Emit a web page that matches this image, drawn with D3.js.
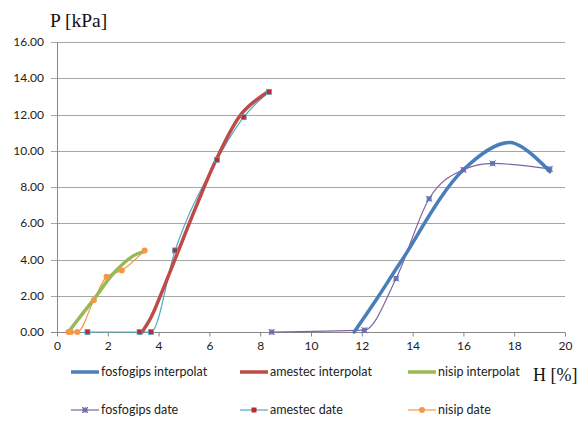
<!DOCTYPE html>
<html><head><meta charset="utf-8">
<script src="https://cdn.jsdelivr.net/npm/d3@7"></script>
<style>
body{margin:0;background:#fff;}
svg{display:block;}
</style></head>
<body>
<svg id="chart" width="586" height="423"></svg>
<script>
// X ticks and Y ticks
const xTicks = [0,2,4,6,8,10,12,14,16,18,20];
const yTicks = [0,2,4,6,8,10,12,14,16];

// fosfogips
const fosfoDateX = [8.45,12.1,13.35,14.65,16.0,17.15,19.4];
const fosfoDateY = [0,0.1,2.95,7.35,8.95,9.3,9.0];
const fosfoInterpX = [11.7,12.6,13.55,16.0,17.85,19.4];
const fosfoInterpY = [0,1.85,3.9,8.95,10.45,8.85];

// amestec
const amestecDateX = [1.2,3.25,3.7,4.65,6.3,7.35,8.35];
const amestecDateY = [0,0,0,4.5,9.5,11.85,13.25];
const amestecInterpX = [3.35,3.7,4.1,4.7,5.5,6.3,7.3,8.35];
const amestecInterpY = [0,0.8,2.1,4.2,7.0,9.6,12.1,13.3];

// nisip
const nisipDateX = [0.45,0.55,0.8,1.45,1.95,2.55,3.45];
const nisipDateY = [0,0,0,1.75,3.05,3.4,4.5];
const nisipInterpX = [0.45,1.0,1.45,2.2,3.0,3.45];
const nisipInterpY = [0,1.0,1.8,3.2,4.2,4.45];

const seriesNames = ["fosfogips interpolat","amestec interpolat","nisip interpolat","fosfogips date","amestec date","nisip date"];

const svg = d3.select("#chart");
const x = d3.scaleLinear().domain([0,20]).range([57,565]);
const y = d3.scaleLinear().domain([0,16]).range([332,42]);

const zip = (a,b)=>a.map((v,i)=>[v,b[i]]);

// gridlines
svg.append("g").selectAll("line").data(yTicks).join("line")
  .attr("x1",51).attr("x2",565)
  .attr("y1",d=>Math.round(y(d))+0.5).attr("y2",d=>Math.round(y(d))+0.5)
  .attr("stroke",d=>d===0?"#878787":"#a6a6a6").attr("stroke-width",1);

// y axis line
svg.append("line").attr("x1",57.5).attr("x2",57.5).attr("y1",y(16)).attr("y2",y(0))
  .attr("stroke","#878787");

// x axis
const xAxis = d3.axisBottom(x).tickValues(xTicks).tickFormat(d3.format("d")).tickSize(4).tickSizeOuter(0);
const gx = svg.append("g").attr("transform",`translate(0,${Math.round(y(0))+0.5})`).call(xAxis);
gx.select(".domain").remove();
gx.selectAll(".tick line").attr("stroke","#878787");
gx.selectAll("text").attr("font-family","Lato, 'Open Sans', sans-serif").attr("font-size",12).attr("fill","#222").attr("dy","0.9em");

// y labels
svg.append("g").selectAll("text").data(yTicks).join("text")
  .attr("x",44).attr("y",d=>y(d)).attr("dy","0.35em").attr("text-anchor","end")
  .attr("font-family","Lato, 'Open Sans', sans-serif").attr("font-size",12).attr("fill","#222")
  .text(d=>d3.format(".2f")(d));

// titles
svg.append("text").attr("x",50).attr("y",27).attr("font-family","'Liberation Serif', 'DejaVu Serif', serif")
  .attr("font-size",19.5).attr("fill","#111").text("P [kPa]");
svg.append("text").attr("x",533).attr("y",381).attr("font-family","'Liberation Serif', 'DejaVu Serif', serif")
  .attr("font-size",18).attr("fill","#111").text("H [%]");

const smooth = d3.line().x(d=>x(d[0])).y(d=>y(d[1])).curve(d3.curveCatmullRom.alpha(0.5));
const smoothData = d3.line().x(d=>x(d[0])).y(d=>y(d[1])).curve(d3.curveMonotoneX);

const colors = {fosfo:"#4a7ebb", amestec:"#be4b48", nisip:"#98b954", fosfoD:"#8064a2", amestecD:"#4bacc6", nisipD:"#f79646"};

// data lines (thin)
function dataLine(xs,ys,color){
  svg.append("path").datum(zip(xs,ys)).attr("d",smoothData).attr("fill","none")
    .attr("stroke",color).attr("stroke-width",1.2);
}
dataLine(fosfoDateX,fosfoDateY,colors.fosfoD);
dataLine(amestecDateX,amestecDateY,colors.amestecD);
dataLine(nisipDateX,nisipDateY,colors.nisipD);

// interpolated thick lines
function interpLine(xs,ys,color){
  svg.append("path").datum(zip(xs,ys)).attr("d",smooth).attr("fill","none")
    .attr("stroke",color).attr("stroke-width",3.5).attr("stroke-linecap","round");
}
interpLine(fosfoInterpX,fosfoInterpY,colors.fosfo);
interpLine(amestecInterpX,amestecInterpY,colors.amestec);
interpLine(nisipInterpX,nisipInterpY,colors.nisip);

// markers
function xMarker(g,cx,cy,c){
  g.append("rect").attr("x",cx-2.5).attr("y",cy-2.5).attr("width",5).attr("height",5).attr("fill","#4f6fb5").attr("opacity",0.85);
  g.append("path").attr("d",`M${cx-3},${cy-3}L${cx+3},${cy+3}M${cx-3},${cy+3}L${cx+3},${cy-3}`).attr("stroke",c).attr("stroke-width",1);
}
const mg = svg.append("g");
zip(fosfoDateX,fosfoDateY).forEach(p=>xMarker(mg,x(p[0]),y(p[1]),colors.fosfoD));
mg.selectAll("rect.am").data(zip(amestecDateX,amestecDateY)).join("rect").attr("class","am")
  .attr("x",d=>x(d[0])-2.5).attr("y",d=>y(d[1])-2.5).attr("width",5).attr("height",5)
  .attr("fill","#c0282d").attr("stroke",colors.amestecD).attr("stroke-width",0.8);
mg.selectAll("circle.ni").data(zip(nisipDateX,nisipDateY)).join("circle").attr("class","ni")
  .attr("cx",d=>x(d[0])).attr("cy",d=>y(d[1])).attr("r",3).attr("fill",colors.nisipD);

// legend
const legendPos = [[71,372],[240,372],[408,372],[71,410],[240,410],[408,410]];
const legColors = [colors.fosfo,colors.amestec,colors.nisip,colors.fosfoD,colors.amestecD,colors.nisipD];
const lg = svg.append("g");
seriesNames.forEach((name,i)=>{
  const [lx,ly] = legendPos[i];
  lg.append("line").attr("x1",lx).attr("x2",lx+28).attr("y1",ly).attr("y2",ly)
    .attr("stroke",legColors[i]).attr("stroke-width",i<3?3.5:1.2);
  const mx = lx+14;
  if(i===3) xMarker(lg,mx,ly,colors.fosfoD);
  if(i===4) lg.append("rect").attr("x",mx-2.5).attr("y",ly-2.5).attr("width",5).attr("height",5).attr("fill","#c0282d");
  if(i===5) lg.append("circle").attr("cx",mx).attr("cy",ly).attr("r",3).attr("fill",colors.nisipD);
  lg.append("text").attr("x",lx+30).attr("y",ly).attr("dy","0.35em")
    .attr("font-family","Lato, 'Open Sans', sans-serif").attr("font-size",12.5).attr("fill","#222").text(name);
});
</script>
</body></html>
